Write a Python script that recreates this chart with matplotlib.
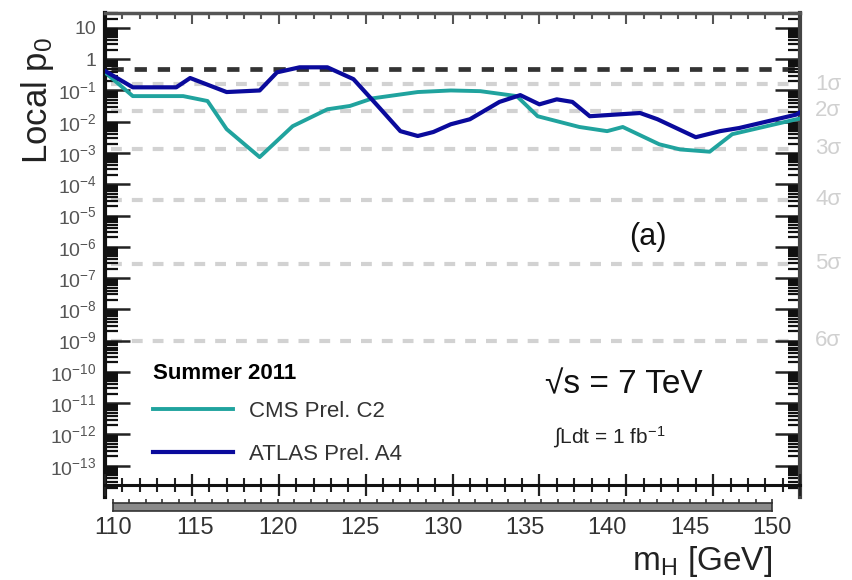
import matplotlib.pyplot as plt
import numpy as np
from matplotlib.ticker import LogLocator, MultipleLocator, NullFormatter

plt.rcParams["font.family"] = ["Liberation Sans", "DejaVu Sans"]
plt.rcParams["mathtext.fontset"] = "custom"
plt.rcParams["mathtext.rm"] = "Liberation Sans"
plt.rcParams["mathtext.it"] = "Liberation Sans:italic"
plt.rcParams["mathtext.bf"] = "Liberation Sans:bold"

W, H = 852, 580

# local p0 curves
mass_cms = [110.0, 111.6, 114.5, 115.9, 117.0, 118.9, 120.8, 122.8, 124.1,
            125.4, 128.0, 129.9, 131.6, 133.7, 134.9, 137.3, 138.9, 139.8,
            141.9, 143.1, 144.8, 146.1, 149.8, 150.0]
p0_cms = [0.38, 0.066, 0.066, 0.046, 0.0058, 0.00074, 0.0072, 0.025, 0.032,
          0.056, 0.089, 0.10, 0.095, 0.066, 0.015, 0.0068, 0.005, 0.0068,
          0.0019, 0.0013, 0.0011, 0.004, 0.012, 0.0126]

mass_atlas = [110.0, 111.6, 114.1, 114.9, 117.0, 118.9, 119.9, 121.2, 122.8,
              124.3, 125.7, 127.0, 128.0, 128.9, 129.9, 131.0, 132.7, 133.9,
              135.0, 136.0, 136.9, 137.9, 140.8, 141.8, 144.0, 145.4, 146.5,
              149.8, 150.0]
p0_atlas = [0.42, 0.126, 0.126, 0.25, 0.089, 0.10, 0.38, 0.55, 0.55,
            0.23, 0.032, 0.005, 0.0035, 0.0047, 0.0083, 0.012, 0.043, 0.071,
            0.036, 0.052, 0.043, 0.015, 0.019, 0.012, 0.0032, 0.005, 0.0063,
            0.017, 0.020]

sigma_names = ["1σ", "2σ", "3σ", "4σ", "5σ", "6σ"]
sigma_p0 = [0.1587, 0.02275, 1.35e-3, 3.17e-5, 2.87e-7, 9.87e-10]
half_p0 = 0.5

decades = [1e-13, 1e-12, 1e-11, 1e-10, 1e-9, 1e-8, 1e-7, 1e-6, 1e-5, 1e-4,
           1e-3, 1e-2, 1e-1, 1, 10]
decade_labels = ["$10^{-13}$", "$10^{-12}$", "$10^{-11}$", "$10^{-10}$",
                 "$10^{-9}$", "$10^{-8}$", "$10^{-7}$", "$10^{-6}$",
                 "$10^{-5}$", "$10^{-4}$", "$10^{-3}$", "$10^{-2}$",
                 "$10^{-1}$", "1", "10"]
mass_ticks = [110, 115, 120, 125, 130, 135, 140, 145, 150]

cms_color = "#20a39e"
atlas_color = "#0a0a9c"


def box(x0, y0, x1, y1):
    # pixel box -> figure fractions
    return [x0 / W, 1 - y1 / H, (x1 - x0) / W, (y1 - y0) / H]


fig = plt.figure(figsize=(W / 100, H / 100), dpi=100)

# ==========================
# main panel
# ==========================
ax = fig.add_axes(box(105, 13, 800, 497))
ax.set_yscale("log")
ax.set_xlim(110, 150)
ax.set_ylim(1e-14, 30)

for p in sigma_p0:
    ax.axhline(p, xmin=0.008, xmax=0.993, color="#d2d2d2", lw=3,
               dashes=(2.6, 2.4), zorder=1)
ax.axhline(half_p0, xmin=0.008, xmax=0.993, color="#333333", lw=3.4,
           dashes=(2.6, 2.3), zorder=1)

l_cms, = ax.plot(mass_cms, p0_cms, color=cms_color, lw=2.8, zorder=3,
                 solid_joinstyle="round")
l_atlas, = ax.plot(mass_atlas, p0_atlas, color=atlas_color, lw=3.0, zorder=4,
                   solid_joinstyle="round")

for name, p in zip(sigma_names, sigma_p0):
    ax.text(1.022, p, name, transform=ax.get_yaxis_transform(),
            ha="left", va="center", fontsize=16, color="#d0d0d0")

ax.set_yticks(decades, decade_labels)
ax.yaxis.set_minor_locator(LogLocator(base=10, subs=np.arange(2, 10),
                                      numticks=40))
ax.yaxis.set_minor_formatter(NullFormatter())
ax.tick_params(axis="y", which="major", direction="in", left=True,
               right=True, length=18, width=1.8, pad=6, labelsize=14,
               labelcolor="#555555", color="#222222")
ax.tick_params(axis="y", which="minor", direction="in", left=True,
               right=True, length=9, width=1.6, color="#111111")

ax.xaxis.set_major_locator(MultipleLocator(5))
ax.xaxis.set_minor_locator(MultipleLocator(1))
ax.tick_params(axis="x", which="both", direction="in", top=True,
               bottom=False, labelbottom=False, color="#555555")
ax.tick_params(axis="x", which="major", length=8, width=1.5)
ax.tick_params(axis="x", which="minor", length=4, width=1.5)

ax.spines["bottom"].set_visible(False)
ax.spines["left"].set_linewidth(3)
ax.spines["left"].set_color("#111111")
ax.spines["right"].set_linewidth(3)
ax.spines["right"].set_color("#444444")
ax.spines["top"].set_linewidth(2.5)
ax.spines["top"].set_color("#555555")

leg = ax.legend([l_cms, l_atlas], ["CMS Prel. C2", "ATLAS Prel. A4"],
                title="Summer 2011", loc="upper left",
                bbox_to_anchor=(153 / W, 1 - 363 / H),
                bbox_transform=fig.transFigure, frameon=False,
                fontsize=16, handlelength=3.6, handletextpad=0.7,
                labelspacing=1.0, borderpad=0, borderaxespad=0,
                alignment="left",
                title_fontproperties={"weight": "bold", "size": 16})
leg._legend_box.sep = 12
for t in leg.get_texts():
    t.set_color("#333333")

fig.text(648 / W, 1 - 237 / H, "(a)", ha="center", va="center", fontsize=22,
         color="#111111")
fig.text(545 / W, 1 - 385 / H, "√s = 7 TeV", ha="left", va="center",
         fontsize=24, color="#111111")
fig.text(553 / W, 1 - 437 / H, r"$\int$Ldt = 1 fb$^{-1}$", ha="left",
         va="center", fontsize=15, color="#222222")

fig.text(37 / W, 1 - 100 / H, "Local p$_0$", rotation=90, ha="center",
         va="center", fontsize=25, color="#222222")

# ==========================
# bottom tick line
# ==========================
ax_line = fig.add_axes(box(105, 484, 800, 485))
ax_line.set_xlim(110, 150)
ax_line.patch.set_visible(False)
for s in ["top", "left", "right"]:
    ax_line.spines[s].set_visible(False)
ax_line.spines["bottom"].set_linewidth(2.2)
ax_line.spines["bottom"].set_color("#111111")
ax_line.set_yticks([])
ax_line.xaxis.set_major_locator(MultipleLocator(5))
ax_line.xaxis.set_minor_locator(MultipleLocator(1))
ax_line.tick_params(axis="x", which="both", direction="inout",
                    labelbottom=False, color="#222222")
ax_line.tick_params(axis="x", which="major", length=16, width=1.6)
ax_line.tick_params(axis="x", which="minor", length=10, width=1.5)

# ==========================
# mass label strip
# ==========================
ax_s = fig.add_axes(box(113, 503, 772, 511))
ax_s.set_xlim(110, 150)
ax_s.set_facecolor("#8a8a8a")
for s in ax_s.spines.values():
    s.set_color("#333333")
    s.set_linewidth(1.2)
ax_s.set_yticks([])
ax_s.set_xticks(mass_ticks)
ax_s.xaxis.set_minor_locator(MultipleLocator(1))
ax_s.tick_params(axis="x", which="both", top=True, bottom=False,
                 direction="out", length=3, width=1.2, color="#333333",
                 labelbottom=True, labelsize=17, labelcolor="#333333", pad=1)
for t in ax_s.get_xticklabels():
    t.set_family(["Liberation Sans Narrow", "Liberation Sans", "DejaVu Sans"])

fig.text(772 / W, 1 - 570 / H, r"m$_\mathrm{H}$ [GeV]", ha="right",
         va="baseline", fontsize=24, color="#222222")

fig.savefig("out.png", dpi=100)
